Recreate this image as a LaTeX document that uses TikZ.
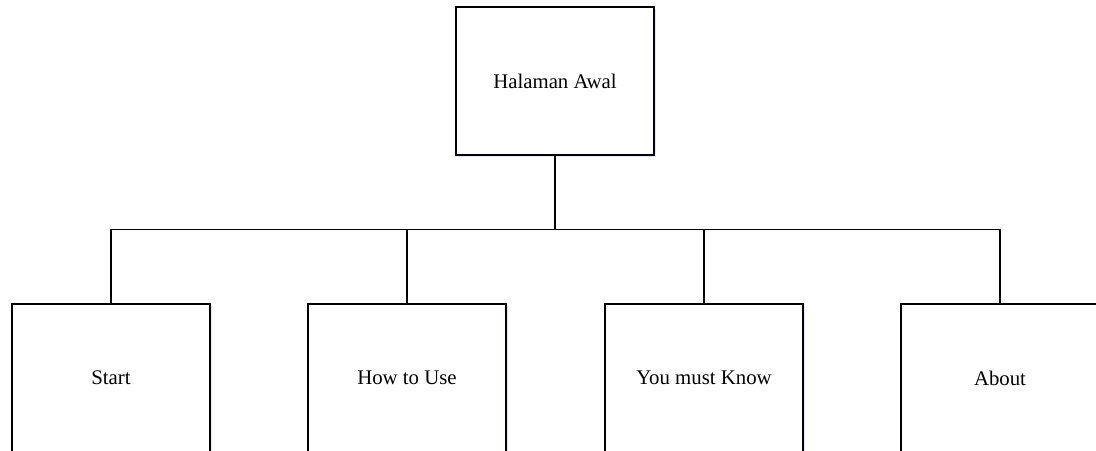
\documentclass[tikz,border=0pt]{standalone}
\usepackage{fontspec}
\setmainfont{Liberation Serif}
\usetikzlibrary{shadows}

\begin{document}
\begin{tikzpicture}[x=0.5pt,y=-0.5pt,
  menubox/.style={draw,line width=0.7pt,fill=white,minimum width=99pt,minimum height=74pt,
    font=\fontsize{10.4}{12}\selectfont,
    drop shadow={shadow xshift=0.8pt,shadow yshift=-0.8pt,fill=blue!40,opacity=0.25}},
  link/.style={line width=0.7pt}]
\useasboundingbox (0,0) rectangle (1096,450);
\clip (0,0) rectangle (1096,450);
\node[menubox] (awal) at (555,81) {Halaman Awal};
\node[menubox] (start) at (111,378) {Start};
\node[menubox] (howto) at (407,378) {How to Use};
\node[menubox] (know) at (704,378) {You must Know};
\node[menubox] (about) at (1000,378) {About};
\path (awal.south) -- (awal.south |- start.north) coordinate[midway] (bus);
\draw[link] (awal.south) -- (bus);
\foreach \n in {start,howto,know,about}
  \draw[link] (bus) -| (\n.north);
\end{tikzpicture}
\end{document}
